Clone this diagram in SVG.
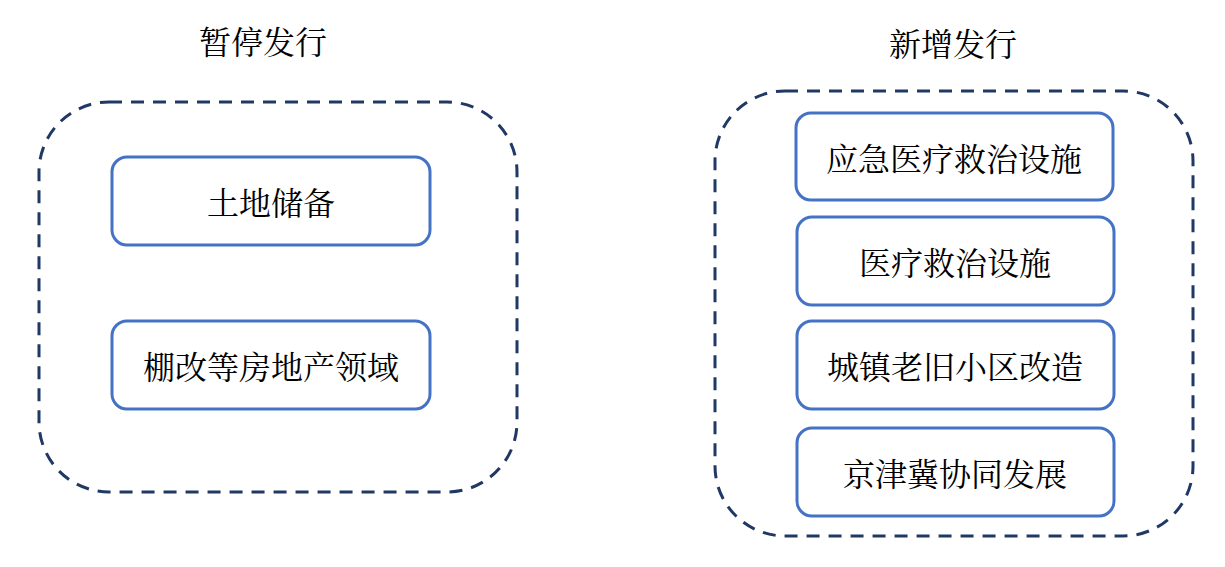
<svg xmlns="http://www.w3.org/2000/svg" width="1225" height="567" viewBox="0 0 1225 567">
<style>
.grp{fill:none;stroke:#203864;stroke-width:3;stroke-dasharray:13 9}
.box{fill:#fff;stroke:#4472C4;stroke-width:3}
text{font-family:"Noto Serif CJK SC","Liberation Serif","Noto Sans CJK SC",serif;font-size:32px;fill:#000;text-anchor:middle;dominant-baseline:central}
</style>
<rect width="1225" height="567" fill="#fff"/>
<g id="group-pause">
<text x="263" y="40">暂停发行</text>
<rect class="grp" x="39" y="102" width="478" height="390" rx="70"/>
</g>
<g id="group-new">
<text x="953" y="42">新增发行</text>
<rect class="grp" x="715" y="91" width="478" height="445" rx="70"/>
</g>
<g id="node-land"><rect class="box" x="112" y="157" width="318" height="88" rx="15"/><text x="271" y="201">土地储备</text></g>
<g id="node-shantytown"><rect class="box" x="112" y="321" width="318" height="88" rx="15"/><text x="271" y="365">棚改等房地产领域</text></g>
<g id="node-emergency"><rect class="box" x="796" y="113" width="317" height="87" rx="15"/><text x="954" y="157">应急医疗救治设施</text></g>
<g id="node-medical"><rect class="box" x="797" y="217" width="317" height="88" rx="15"/><text x="955" y="261">医疗救治设施</text></g>
<g id="node-oldtown"><rect class="box" x="797" y="321" width="317" height="88" rx="15"/><text x="955" y="365">城镇老旧小区改造</text></g>
<g id="node-jjj"><rect class="box" x="797" y="428" width="317" height="88" rx="15"/><text x="955" y="472">京津冀协同发展</text></g>
<g id="connectors"></g>
</svg>
